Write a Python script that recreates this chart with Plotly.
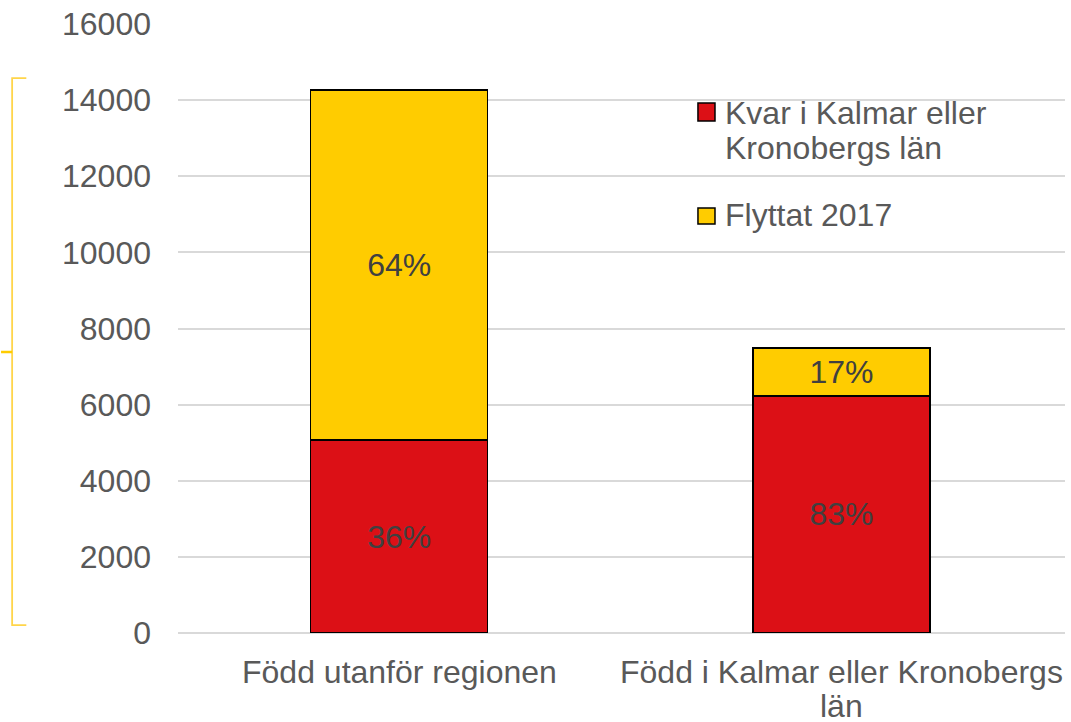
import plotly.graph_objects as go

categories = ["Född utanför regionen", "Född i Kalmar eller Kronobergs<br>län"]
kvar = [5070, 6230]
flyttat = [9200, 1260]
kvar_pct = ["36%", "83%"]
flyttat_pct = ["64%", "17%"]
series_names = ["Kvar i Kalmar eller", "Kronobergs län", "Flyttat 2017"]
y_ticks = [0, 2000, 4000, 6000, 8000, 10000, 12000, 14000, 16000]

RED = "#DC1016"
YEL = "#FFCC00"
FONT = "Liberation Sans"

fig = go.Figure()
fig.add_trace(go.Bar(
    x=categories, y=kvar, name=series_names[0] + " " + series_names[1],
    marker=dict(color=RED, line=dict(color="black", width=1.5)),
    text=kvar_pct, textposition="inside", insidetextanchor="middle",
    textfont=dict(color="#404040", size=32, family=FONT), showlegend=False,
))
fig.add_trace(go.Bar(
    x=categories, y=flyttat, name=series_names[2],
    marker=dict(color=YEL, line=dict(color="black", width=1.5)),
    text=flyttat_pct, textposition="inside", insidetextanchor="middle",
    textfont=dict(color="#404040", size=32, family=FONT), showlegend=False,
))

fig.update_layout(
    width=1071, height=722,
    margin=dict(l=178, r=6, t=24, b=89),
    barmode="stack", bargap=0.6,
    plot_bgcolor="white", paper_bgcolor="white",
    font=dict(family=FONT, color="#595959", size=32),
    uniformtext=dict(mode=False),
    showlegend=False,
)
fig.update_yaxes(
    range=[0, 16000], tickvals=y_ticks, ticktext=[str(v) for v in y_ticks],
    showgrid=True, gridcolor="#D9D9D9", gridwidth=1.5,
    zeroline=True, zerolinecolor="#D9D9D9", zerolinewidth=1.5,
    showline=False, ticks="", ticklabelstandoff=26, automargin=False,
    tickfont=dict(size=32, color="#595959"),
)
fig.update_xaxes(
    showline=False, ticks="", showgrid=False, automargin=False,
    showticklabels=False,
)

# category labels (tighter line spacing than tick labels allow)
for cat in categories:
    for i, line in enumerate(cat.split("<br>")):
        fig.add_annotation(text=line, xref="x", yref="paper", x=cat,
                           y=-0.0640 - i * 0.0560, xanchor="center", yanchor="middle",
                           showarrow=False,
                           font=dict(size=32, color="#595959", family=FONT))

# manual legend
fig.add_shape(type="rect", xref="paper", yref="paper",
              x0=0.5862, x1=0.6054, y0=0.8407, y1=0.8703,
              fillcolor=RED, line=dict(color="black", width=1.5))
fig.add_shape(type="rect", xref="paper", yref="paper",
              x0=0.5862, x1=0.6054, y0=0.6716, y1=0.6979,
              fillcolor=YEL, line=dict(color="black", width=1.5))
for txt, yp in zip(series_names, [0.8539, 0.7964, 0.6864]):
    fig.add_annotation(text=txt, xref="paper", yref="paper", x=0.6144, y=yp,
                       xanchor="left", yanchor="middle", showarrow=False,
                       font=dict(size=32, color="#595959", family=FONT))

# decorative bracket on the left
br = "#FFD54A"
fig.add_shape(type="path", xref="paper", yref="paper",
              path="M -0.171 0.911 L -0.187 0.911 L -0.187 0.464 L -0.187 0.458 L -0.187 0.013 L -0.171 0.013",
              line=dict(color=br, width=1.8))
fig.add_shape(type="line", xref="paper", yref="paper",
              x0=-0.1995, x1=-0.187, y0=0.4614, y1=0.4614,
              line=dict(color="#FFCC00", width=2.5))

fig.write_html("out.html", config={"displayModeBar": False},
               post_script="document.body.style.margin='0';")
